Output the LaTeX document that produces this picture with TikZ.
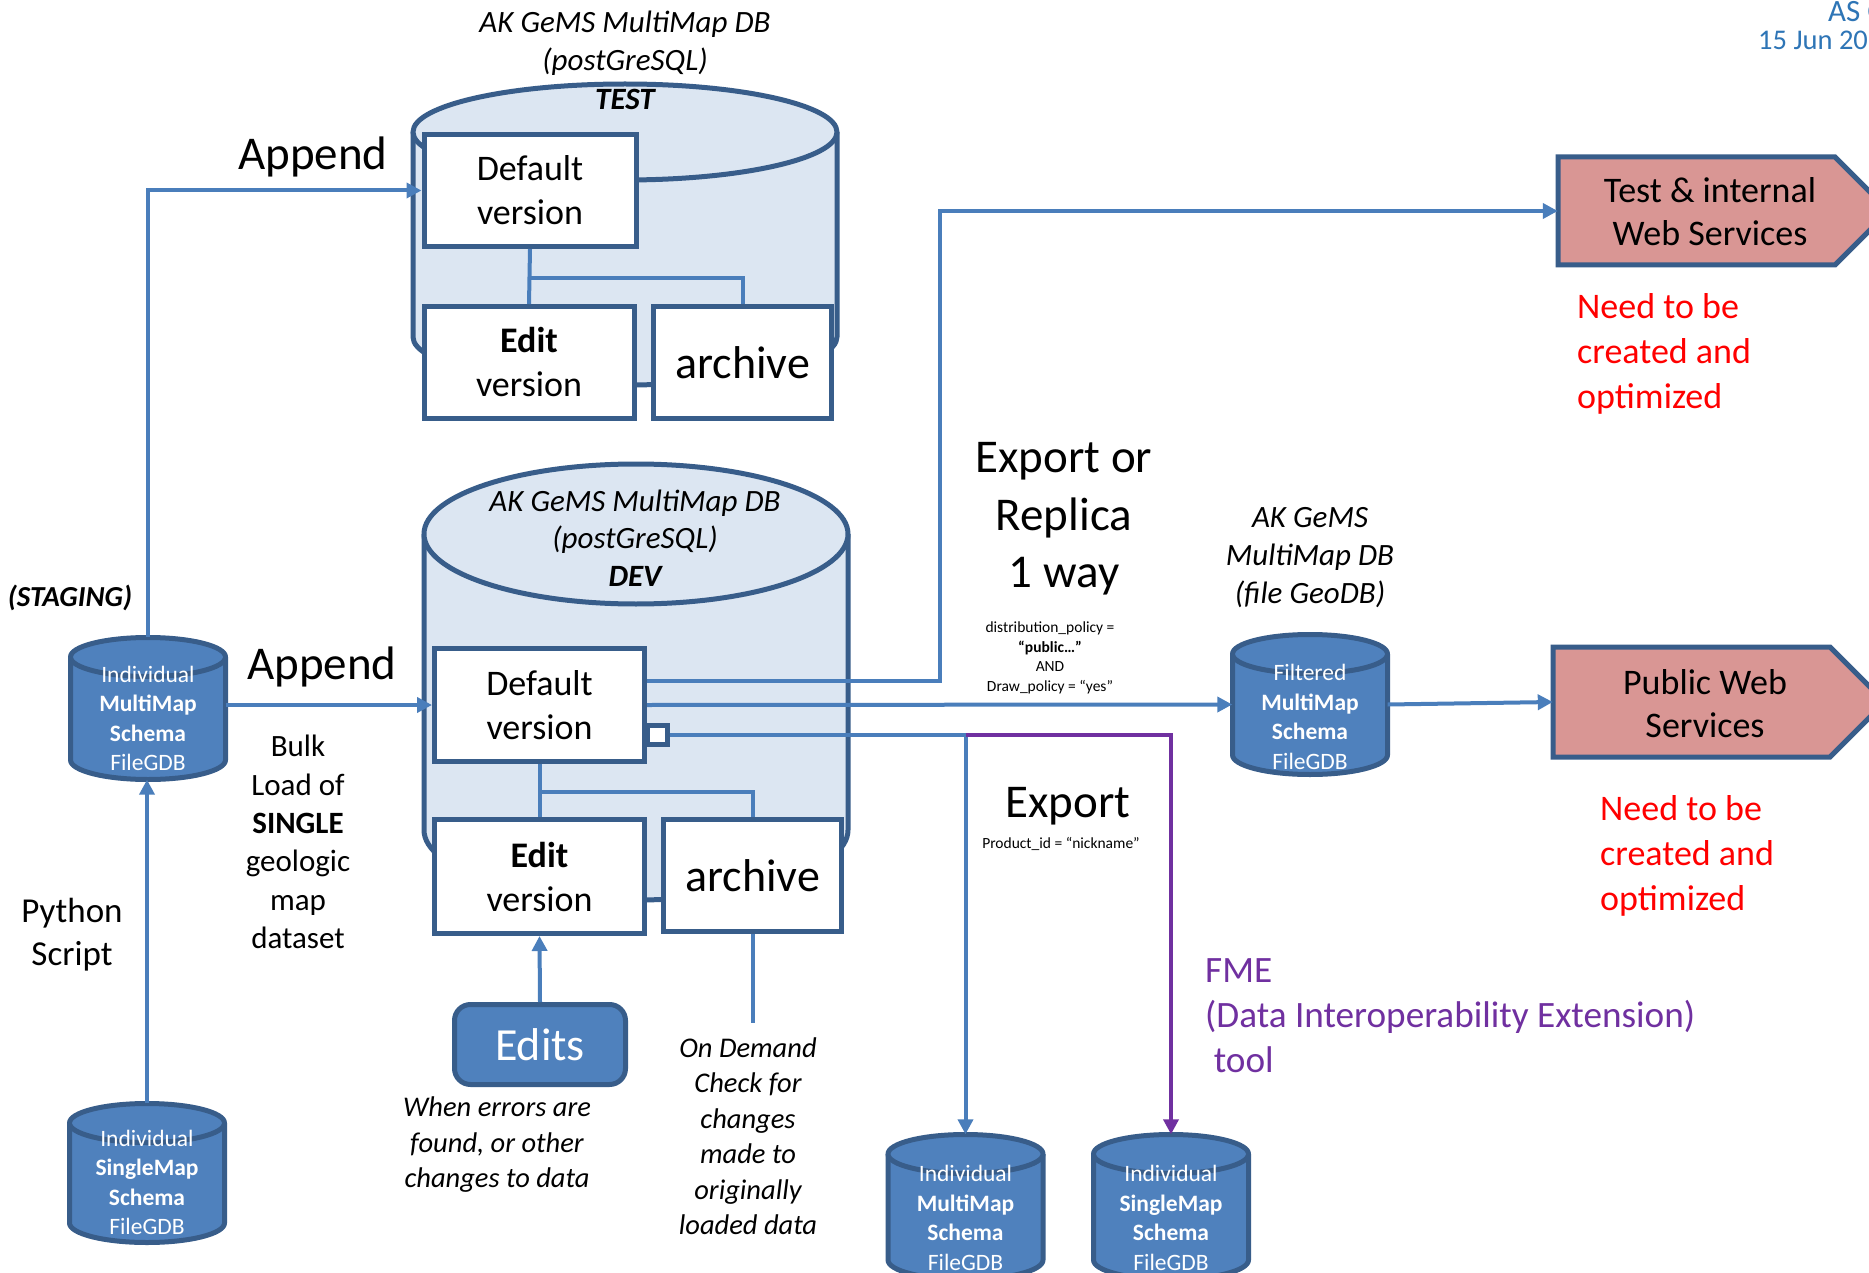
\documentclass[tikz,border=0pt]{standalone}
\usepackage{fontspec}
\setmainfont{Carlito}
\usetikzlibrary{arrows.meta,calc}

\definecolor{cEdge}{HTML}{385D8A}
\definecolor{cFlow}{HTML}{4A7EBB}
\definecolor{cLight}{HTML}{DCE6F2}
\definecolor{cMid}{HTML}{4F81BD}
\definecolor{cPink}{HTML}{D99694}
\definecolor{cRed}{HTML}{FF0000}
\definecolor{cPurple}{HTML}{7030A0}
\definecolor{cDate}{HTML}{2E75B6}

\newcommand{\fsz}[2]{\fontsize{#1}{#2}\selectfont}

% database drum: name, centre x, top-ellipse y, bottom-ellipse y, x radius, y radius, fill
\newcommand{\dbdrum}[7]{%
  \fill[#7] ({#2-#5},#3) -- ({#2-#5},#4)
    .. controls ({#2-#5},{#4+0.5523*#6}) and ({#2-0.5523*#5},{#4+#6}) .. (#2,{#4+#6})
    .. controls ({#2+0.5523*#5},{#4+#6}) and ({#2+#5},{#4+0.5523*#6}) .. ({#2+#5},#4)
    -- ({#2+#5},#3) -- cycle;
  \draw[drumedge] ({#2-#5},#3) -- ({#2-#5},#4)
    .. controls ({#2-#5},{#4+0.5523*#6}) and ({#2-0.5523*#5},{#4+#6}) .. (#2,{#4+#6})
    .. controls ({#2+0.5523*#5},{#4+#6}) and ({#2+#5},{#4+0.5523*#6}) .. ({#2+#5},#4)
    -- ({#2+#5},#3);
  \draw[drumedge,fill=#7] (#2,#3) ellipse[x radius=#5, y radius=#6];
  \node[inner sep=0pt, minimum width={2*#5}, minimum height={#4-#3+2*#6}] (#1) at (#2,{(#3+#4)/2}) {};
}

\tikzset{
  every node/.style={inner sep=0pt},
  drumedge/.style={draw=cEdge, line width=5pt, line join=round},
  vbox/.style={draw=cEdge, line width=5pt, fill=white, align=center, font={\fsz{36}{44}}},
  flow/.style={draw=cFlow, line width=4pt},
  fmeflow/.style={draw=cPurple, line width=4pt},
  arrowed/.style={-{Triangle[length=15pt,width=15pt]}},
  svc/.style={draw=cEdge, line width=5pt, fill=cPink, line join=miter},
  svctext/.style={align=center, font={\fsz{36}{43}}},
  bigword/.style={align=center, font={\fsz{47}{57.5}}},
  drumtext/.style={text=white, align=center, font={\fsz{23.5}{29.5}}},
  note/.style={align=center, font={\itshape\fsz{28.5}{35.5}}},
  redtext/.style={text=cRed, align=left, font={\fsz{36}{45}}, anchor=west},
}

\begin{document}
\begin{tikzpicture}[x=1pt,y=-1pt]
\path[use as bounding box, clip] (0,0) rectangle (1869,1273);
\fill[white] (0,0) rectangle (1869,1273);

% ---- TEST database ----
\dbdrum{testdb}{625}{132}{337}{212}{48}{cLight}
\node[align=center, font={\itshape\fsz{31}{38.5}}] (testlbl) at (625,60)
  {AK GeMS MultiMap DB\\(postGreSQL)\\\textbf{TEST}};
\node[vbox, minimum width=212, minimum height=112] (td) at (530,190.5) {Default\\version};
\node[vbox, minimum width=210, minimum height=112] (te) at (529,362.5) {\textbf{Edit}\\version};
\node[vbox, minimum width=178, minimum height=112, font={\fsz{46}{56}}] (ta) at (742.5,362.5) {archive};
\draw[flow] (td.south) -- (te.north);
\draw[flow] ($(td.south)+(0,29)$) -| (ta.north);

% ---- DEV database ----
\dbdrum{devdb}{636}{534}{830}{212}{70}{cLight}
\node[align=center, font={\itshape\fsz{31}{37.5}}] (devlbl) at (635,538)
  {AK GeMS MultiMap DB\\(postGreSQL)\\\textbf{DEV}};
\node[vbox, minimum width=20, minimum height=19] (port) at (657,735) {};
\node[vbox, minimum width=210, minimum height=113] (dd) at (539.5,705) {Default\\version};
\node[vbox, minimum width=210, minimum height=114] (de) at (539.5,876.5) {\textbf{Edit}\\version};
\node[vbox, minimum width=178, minimum height=112, font={\fsz{46}{56}}] (da) at (752.5,875.5) {archive};
\draw[flow] (dd.south) -- (de.north);
\draw[flow] ($(dd.south)+(0,28)$) -| (da.north);

% ---- file geodatabases ----
\dbdrum{stg}{148}{657}{760}{77.5}{19.5}{cMid}
\node[drumtext] (stgtxt) at (148,718.5) {Individual\\\textbf{MultiMap}\\\textbf{Schema}\\FileGDB};
\dbdrum{sgl}{147}{1123}{1223}{77.5}{19.5}{cMid}
\node[drumtext] (sgltxt) at (147,1182.5) {Individual\\\textbf{SingleMap}\\\textbf{Schema}\\FileGDB};
\dbdrum{flt}{1310}{654}{755}{77.5}{19.5}{cMid}
\node[drumtext] (flttxt) at (1310,717) {Filtered\\\textbf{MultiMap}\\\textbf{Schema}\\FileGDB};
\dbdrum{mmo}{965.5}{1154}{1260}{77.5}{19.5}{cMid}
\node[drumtext] (mmotxt) at (965.5,1218) {Individual\\\textbf{MultiMap}\\\textbf{Schema}\\FileGDB};
\dbdrum{smo}{1171}{1154}{1260}{77.5}{19.5}{cMid}
\node[drumtext] (smotxt) at (1171,1218) {Individual\\\textbf{SingleMap}\\\textbf{Schema}\\FileGDB};

% ---- edits ----
\node[draw=cEdge, line width=5pt, fill=cMid, rounded corners=16pt, minimum width=171,
  minimum height=80, text=white, font={\fsz{46}{56}}] (edits) at (540,1044.5) {Edits};

% ---- web services ----
\draw[svc] (1558,157) -- (1835,157) -- (1889,211) -- (1835,265) -- (1558,265) -- cycle;
\node[minimum width=277, minimum height=108] (tws) at (1696.5,211) {};
\node[svctext] (twstxt) at (1710,212) {Test \& internal\\Web Services};
\draw[svc] (1553,647) -- (1830,647) -- (1885,702) -- (1830,757) -- (1553,757) -- cycle;
\node[minimum width=277, minimum height=110] (pws) at (1691.5,702) {};
\node[svctext] (pwstxt) at (1705,703.5) {Public Web\\Services};

% ---- connectors ----
\coordinate (ebend) at (940,211);
\draw[flow,arrowed] (stg.north) |- (td.west);
\draw[flow,arrowed] (stg.east |- dd.west) -- (dd.west);
\draw[flow,arrowed] (sgl.north) -- (sgl.north |- stg.south);
\draw[flow,arrowed] ($(dd.east)+(0,-24)$) -| (ebend) -- (tws.west);
\draw[flow,arrowed] (dd.east) -- (flt.west);
\draw[flow,arrowed] (flt.east) -- (pws.west);
\draw[flow,arrowed] (port.east) -| (mmo.north);
\draw[fmeflow,arrowed] (port.east -| mmo.north) -| (smo.north);
\draw[flow,arrowed] (edits.north) -- (de.south);
\draw[flow] (da.south) -- ++(0,89);

% ---- labels ----
\node[bigword] (app1) at (313,157) {Append};
\node[bigword] (app2) at (322,667) {Append};
\node[font={\bfseries\itshape\fsz{29}{35}}] (stag) at (70,598) {(STAGING)};
\node[align=center, font={\fsz{31}{38.4}}] (bulk) at (298,842)
  {Bulk\\Load of\\\textbf{SINGLE}\\geologic\\map\\dataset};
\node[align=center, font={\fsz{35}{43}}] (py) at (72,935) {Python\\Script};
\node[bigword] (exrep) at (1064,519) {Export or\\Replica\\1 way};
\node[align=center, font={\fsz{15.5}{19.5}}] (dpol) at (1050,658)
  {distribution\_policy =\\\textbf{“public…”}\\AND\\Draw\_policy = “yes”};
\node[bigword] (exp) at (1068,806) {Export};
\node[font={\fsz{15.5}{19}}] (pid) at (1061,844) {Product\_id = “nickname”};
\node[align=center, font={\itshape\fsz{31}{38}}] (fgdb) at (1310,557.5)
  {AK GeMS\\MultiMap DB\\(file GeoDB)};
\node[redtext] (need1) at (1577,354) {Need to be\\created and\\optimized};
\node[redtext] (need2) at (1600,856) {Need to be\\created and\\optimized};
\node[align=left, anchor=west, text=cPurple, font={\fsz{37.2}{45}}] (fme) at (1205,1016)
  {FME\\(Data Interoperability Extension)\\\hspace*{0.23em}tool};
\node[note] (whenerr) at (497,1145) {When errors are\\found, or other\\changes to data};
\node[note] (ondem) at (748,1136) {On Demand\\Check for\\changes\\made to\\originally\\loaded data};
\node[anchor=base west, text=cDate, font={\fsz{31}{34}}] (asof) at (1828,22) {AS OF};
\node[anchor=base west, text=cDate, font={\fsz{28.5}{34}}] (date) at (1758,50) {15 Jun 2021};
\end{tikzpicture}
\end{document}
